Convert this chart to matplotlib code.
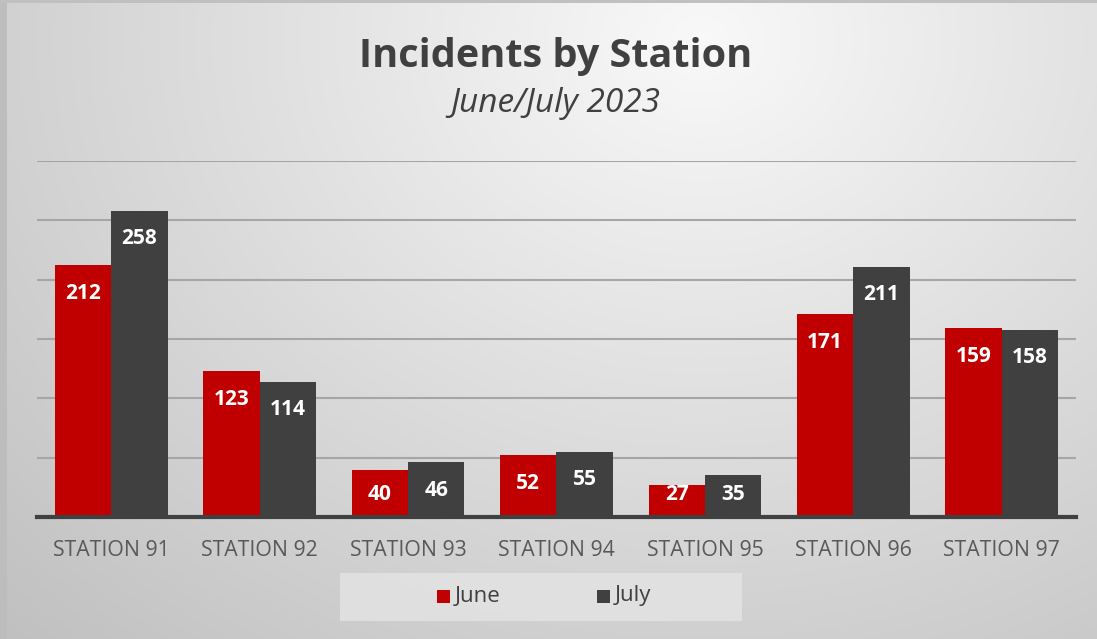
import numpy as np
import matplotlib
matplotlib.use("Agg")
import matplotlib.pyplot as plt
from matplotlib.patches import Rectangle

categories = ["STATION 91", "STATION 92", "STATION 93", "STATION 94", "STATION 95", "STATION 96", "STATION 97"]
june = [212, 123, 40, 52, 27, 171, 159]
july = [258, 114, 46, 55, 35, 211, 158]
series_names = ["June", "July"]
title = "Incidents by Station"
subtitle = "June/July 2023"

W, H = 1097, 639
fig = plt.figure(figsize=(W / 100, H / 100), dpi=100)

# background radial gradient
bg = fig.add_axes([0, 0, 1, 1])
yy, xx = np.mgrid[0:H, 0:W]
cx, cy = 700, 40
d = np.sqrt(((xx - cx) / 900.0) ** 2 + ((yy - cy) / 750.0) ** 2)
v = np.clip(0.975 - 0.20 * d, 0.74, 1.0)
img = np.dstack([v, v, v])
bg.imshow(img, extent=[0, W, H, 0], aspect="auto", interpolation="bilinear")
bg.add_patch(Rectangle((0, 0), 7, H, color="#bdbdbd", lw=0))
bg.add_patch(Rectangle((0, 0), W, 3, color="#c0c0c0", lw=0))
bg.set_xlim(0, W)
bg.set_ylim(H, 0)
bg.axis("off")

# legend box
bg.add_patch(Rectangle((340, 573), 402, 48, color="#e3e3e3", lw=0, alpha=0.85))

ax = fig.add_axes([37 / W, 1 - 517 / H, (1076 - 37) / W, (517 - 161) / H])
ax.patch.set_alpha(0)
x = np.arange(len(categories))
bw = 0.38
red = "#c00000"
dark = "#404040"
b1 = ax.bar(x - bw / 2, june, bw, color=red, zorder=3, label=series_names[0])
b2 = ax.bar(x + bw / 2, july, bw, color=dark, zorder=3, label=series_names[1])
ax.set_xlim(-0.5, len(categories) - 0.5)
ax.set_ylim(0, 300)
ax.set_yticks(np.arange(0, 301, 50))
ax.yaxis.grid(True, color="#a6a6a6", lw=1.5, zorder=1)
ax.tick_params(axis="y", left=False, labelleft=False)
ax.tick_params(axis="x", bottom=False, pad=13)
ax.set_xticks(x)
ax.set_xticklabels(categories, fontsize=15.3, color="#595959", family="Open Sans")
for s in ["top", "right", "left"]:
    ax.spines[s].set_visible(False)
ax.spines["bottom"].set_color("#404040")
ax.spines["bottom"].set_linewidth(3)
ax.spines["bottom"].set_zorder(4)

units_per_px = 300.0 / (517 - 161)
for bars, vals in ((b1, june), (b2, july)):
    for b, val in zip(bars, vals):
        ylab = max(val - 28 * units_per_px, 23 * units_per_px)
        ax.text(b.get_x() + b.get_width() / 2, ylab, str(val),
                ha="center", va="center", color="white", fontsize=15,
                fontweight="bold", family="Open Sans", zorder=5)

fig.text(556 / W, 1 - 56 / H, title, ha="center", va="center", fontsize=28.5,
         fontweight="bold", color="#404040", family="Open Sans")
fig.text(555 / W, 1 - 104 / H, subtitle, ha="center", va="center", fontsize=24,
         style="italic", color="#404040", family="Open Sans")

# legend
for (lx, name, col) in ((437, "June", red), (597, "July", dark)):
    bg.add_patch(Rectangle((lx, 590), 13, 13, color=col, lw=0))
    bg.text(lx + 18, 596, name, ha="left", va="center", fontsize=16, color="#404040",
            family="Open Sans")

fig.savefig("out.png", dpi=100)
